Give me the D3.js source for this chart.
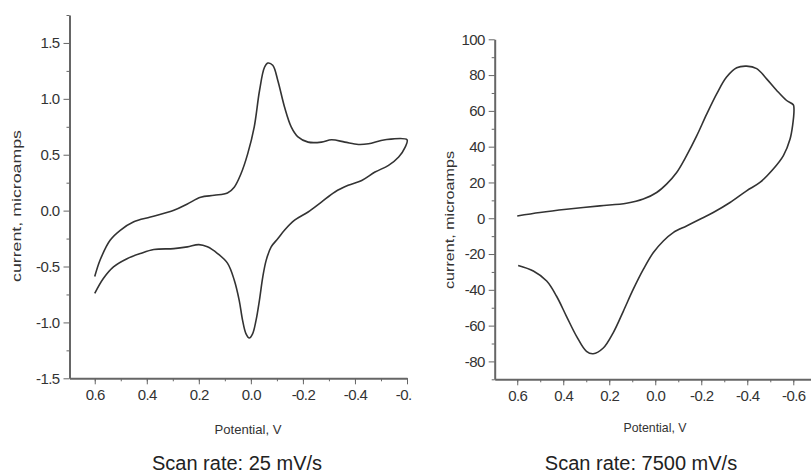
<!DOCTYPE html>
<html><head><meta charset="utf-8">
<script src="https://cdn.jsdelivr.net/npm/d3@7"></script>
<style>
body{margin:0;background:#fff;}
svg{display:block;font-family:"Liberation Sans",Arial,sans-serif;}
.axis path,.axis line{stroke:#666;}
.axis text{fill:#333;font-size:15px;letter-spacing:-0.6px;}
</style></head><body>
<svg id="c" width="811" height="476"></svg>
<script>
// Slow scan (25 mV/s): potential (V) and current (microamps), in scan order
const slowPotential = [0.6,0.579,0.541,0.502,0.45,0.386,0.296,0.244,0.193,0.141,0.09,0.064,0.038,0.012,-0.013,-0.033,-0.052,-0.065,-0.084,-0.104,-0.129,-0.155,-0.181,-0.22,-0.271,-0.31,-0.361,-0.413,-0.452,-0.516,-0.6,
  -0.593,-0.568,-0.529,-0.477,-0.426,-0.374,-0.323,-0.271,-0.22,-0.168,-0.129,-0.104,-0.078,-0.059,-0.046,-0.033,-0.02,-0.007,0.006,0.019,0.032,0.045,0.064,0.09,0.128,0.167,0.2,0.244,0.296,0.373,0.425,0.476,0.528,0.567,0.6];
const slowCurrent = [-0.59,-0.44,-0.265,-0.176,-0.10,-0.057,0.003,0.06,0.12,0.137,0.158,0.21,0.33,0.51,0.75,1.07,1.28,1.32,1.30,1.16,0.93,0.75,0.66,0.613,0.613,0.634,0.613,0.592,0.598,0.634,0.634,
  0.568,0.48,0.405,0.345,0.27,0.226,0.167,0.077,-0.012,-0.086,-0.176,-0.25,-0.324,-0.443,-0.59,-0.80,-0.98,-1.10,-1.14,-1.10,-0.98,-0.80,-0.62,-0.47,-0.384,-0.324,-0.304,-0.324,-0.34,-0.348,-0.384,-0.43,-0.503,-0.607,-0.74];
// Fast scan (7500 mV/s)
const fastPotential = [0.6,0.501,0.386,0.241,0.125,0.052,-0.006,-0.049,-0.093,-0.136,-0.18,-0.223,-0.267,-0.31,-0.354,-0.397,-0.441,-0.484,-0.528,-0.571,-0.6,
  -0.603,-0.597,-0.586,-0.557,-0.513,-0.455,-0.397,-0.325,-0.252,-0.194,-0.136,-0.078,-0.035,0.009,0.052,0.096,0.139,0.183,0.226,0.27,0.299,0.342,0.386,0.429,0.472,0.53,0.596];
const fastCurrent = [1.3,3.2,5.0,6.9,8.4,10.7,14.4,19.1,25.6,35,46,58,69.5,78.9,84.1,85,83.6,77.9,71.4,65.8,63.4,
  61,51.8,44.3,35,27.5,20,15.3,8.8,3.2,-0.6,-4.3,-8.0,-12.7,-19.3,-28.6,-39.8,-52,-64,-72.5,-75.7,-74.4,-66,-54.8,-43.6,-35.1,-29.5,-26.4];
const xTickValues = [0.6,0.4,0.2,0.0,-0.2,-0.4,-0.6];
const slowYTicks = [1.5,1.0,0.5,0.0,-0.5,-1.0,-1.5];
const fastYTicks = [100,80,60,40,20,0,-20,-40,-60,-80];
const titles = ["Scan rate: 25 mV/s","Scan rate: 7500 mV/s"];
const xLabel = "Potential, V";
const yLabel = "current, microamps";

const hy = f => d => f(d).replace("\u2212","-");
const svg = d3.select("#c");
svg.append("defs").append("clipPath").attr("id","leftclip")
  .append("rect").attr("x",0).attr("y",0).attr("width",412).attr("height",476);

function panel(g, cfg){
  const x = d3.scaleLinear().domain(cfg.xDomain).range(cfg.xRange);
  const y = d3.scaleLinear().domain(cfg.yDomain).range(cfg.yRange);
  const xa = g.append("g").attr("class","axis").attr("transform",`translate(0,${cfg.yRange[0]})`);
  xa.call(d3.axisBottom(x).tickValues(cfg.xMinor).tickSize(3).tickFormat(""));
  xa.call(g2=>g2.select(".domain").remove());
  const xb = g.append("g").attr("class","axis").attr("transform",`translate(0,${cfg.yRange[0]})`)
    .call(d3.axisBottom(x).tickValues(xTickValues).tickSize(6).tickSizeOuter(0).tickPadding(5).tickFormat(hy(d3.format(".1f"))));
  xb.select(".domain").attr("stroke-width",2);
  const ya = g.append("g").attr("class","axis").attr("transform",`translate(${cfg.xRange[0]},0)`);
  ya.call(d3.axisLeft(y).tickValues(cfg.yMinor).tickSize(3).tickFormat(""));
  ya.call(g2=>g2.select(".domain").remove());
  const yb = g.append("g").attr("class","axis").attr("transform",`translate(${cfg.xRange[0]},0)`)
    .call(d3.axisLeft(y).tickValues(cfg.yTicks).tickSize(6).tickSizeOuter(0).tickPadding(4).tickFormat(hy(cfg.yFmt)));
  yb.select(".domain").attr("stroke-width",2);

  const pts = cfg.px.map((v,i)=>[v,cfg.py[i]]);
  g.append("path").datum(pts)
    .attr("fill","none").attr("stroke","#333").attr("stroke-width",1.6)
    .attr("d",d3.line().x(d=>x(d[0])).y(d=>y(d[1])).curve(d3.curveCatmullRom.alpha(0.5)));

  g.append("text").attr("x",cfg.xlx).attr("y",cfg.xly).attr("text-anchor","middle")
    .attr("font-size",13).attr("fill","#333").attr("textLength",cfg.xlw).attr("lengthAdjust","spacingAndGlyphs").text(xLabel);
  g.append("text").attr("transform",`translate(${cfg.ylx},${cfg.yly}) rotate(-90)`).attr("text-anchor","middle")
    .attr("font-size",13).attr("fill","#333").attr("textLength",cfg.ylw).attr("lengthAdjust","spacingAndGlyphs").text(yLabel);
  g.append("text").attr("x",cfg.tx).attr("y",470).attr("text-anchor","middle")
    .attr("font-size",20).attr("fill","#222").text(cfg.title);
}

const left = svg.append("g").attr("clip-path","url(#leftclip)");
panel(left,{
  xDomain:[0.697,-0.6], xRange:[69.5,407],
  yDomain:[-1.5,1.75], yRange:[378.3,15],
  xMinor:[0.6,0.5,0.4,0.3,0.2,0.1,0.0,-0.1,-0.2,-0.3,-0.4,-0.5,-0.6],
  yMinor:[1.75,1.25,0.75,0.25,-0.25,-0.75,-1.25],
  yTicks:slowYTicks, yFmt:d3.format(".1f"),
  px:slowPotential, py:slowCurrent,
  xlx:248, xly:434, xlw:67, ylx:21, yly:206, ylw:152,
  tx:237, title:titles[0]
});
const right = svg.append("g");
panel(right,{
  xDomain:[0.698,-0.677], xRange:[494.7,811],
  yDomain:[-90,100], yRange:[379.3,39.3],
  xMinor:[0.6,0.5,0.4,0.3,0.2,0.1,0.0,-0.1,-0.2,-0.3,-0.4,-0.5,-0.6],
  yMinor:[90,70,50,30,10,-10,-30,-50,-70,-90],
  yTicks:fastYTicks, yFmt:d3.format("d"),
  px:fastPotential, py:fastCurrent,
  xlx:655, xly:432, xlw:63, ylx:454, yly:220, ylw:138,
  tx:641, title:titles[1]
});
</script></body></html>
